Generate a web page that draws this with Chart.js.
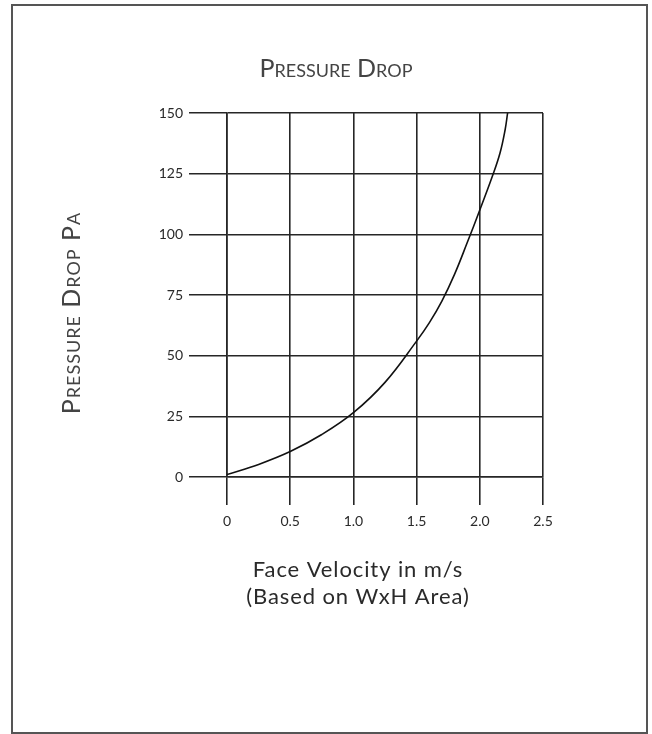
<!DOCTYPE html>
<html lang="en">
<head>
    <meta charset="UTF-8">
    <title>Pressure Drop</title>
    <script src="https://cdn.jsdelivr.net/npm/chart.js"></script>
    <style>
        html, body { margin: 0; padding: 0; background: #fff; }
        #frame { position: absolute; left: 11px; top: 4px; width: 633px; height: 726px; border: 2px solid #555; }
        #wrap { position: absolute; left: 0; top: 0; width: 652px; height: 734px; }
    </style>
</head>
<body>
    <div id="frame"></div>
    <div id="wrap"><canvas id="pressureChart" width="652" height="734"></canvas></div>
    <script>
        // values
        const velocity = [0, 0.25, 0.5, 0.75, 1.0, 1.25, 1.5, 1.6, 1.7, 1.8, 1.9, 2.0, 2.1, 2.16, 2.2, 2.22];
        const pressure = [1, 5.2, 10.5, 17.5, 26.5, 39, 56, 63.5, 72.5, 83.5, 96.5, 110, 124, 133.5, 143, 150];
        const xTickLabels = ['0', '0.5', '1.0', '1.5', '2.0', '2.5'];
        const yTickLabels = ['0', '25', '50', '75', '100', '125', '150'];
        const chartTitle = 'Pressure Drop';
        const yTitle = 'Pressure Drop Pa';
        const xTitle = ['Face Velocity in m/s', '(Based on WxH Area)'];

        const captions = {
            id: 'captions',
            afterDraw(chart) {
                const { ctx, chartArea: a } = chart;
                ctx.save();
                ctx.textAlign = 'center';
                ctx.textBaseline = 'alphabetic';
                // chart title
                ctx.fillStyle = '#444';
                ctx.font = 'small-caps 25px Lato';
                ctx.letterSpacing = '0px';
                ctx.fillText(chartTitle, a.left + 109, a.top - 36);
                // x caption
                ctx.fillStyle = '#2a2a2a';
                ctx.font = '22px Lato';
                ctx.letterSpacing = '0.9px';
                xTitle.forEach((line, i) => ctx.fillText(line, a.left + 131, a.bottom + 100 + i * 27));
                // y caption
                ctx.fillStyle = '#444';
                ctx.font = 'small-caps 25px Lato';
                ctx.letterSpacing = '1px';
                ctx.translate(a.left - 147, a.top + 200);
                ctx.rotate(-Math.PI / 2);
                ctx.fillText(yTitle, 0, 0);
                ctx.restore();
            }
        };

        const gridColor = '#262626';
        const tickFont = { family: 'Lato', size: 14 };

        new Chart(document.getElementById('pressureChart'), {
            type: 'line',
            data: {
                datasets: [{
                    data: velocity.map((v, i) => ({ x: v, y: pressure[i] })),
                    borderColor: '#111',
                    borderWidth: 1.6,
                    pointRadius: 0,
                    fill: false,
                    tension: 0.4
                }]
            },
            options: {
                responsive: false,
                animation: false,
                layout: { padding: { left: 0, right: 109, top: 113, bottom: 197 } },
                plugins: { legend: { display: false }, tooltip: { enabled: false } },
                scales: {
                    x: {
                        type: 'linear', min: 0, max: 2.5,
                        ticks: { stepSize: 0.5, padding: 8, color: '#2a2a2a', font: tickFont,
                                 callback: (v, i) => xTickLabels[i] },
                        grid: { color: gridColor, lineWidth: 1.6, tickLength: 28 },
                        border: { color: gridColor, width: 1.6 },
                        afterFit(s) { s.height = 60; }
                    },
                    y: {
                        min: 0, max: 150,
                        ticks: { stepSize: 25, padding: 6, color: '#2a2a2a', font: tickFont,
                                 callback: (v, i) => yTickLabels[i] },
                        grid: { color: gridColor, lineWidth: 1.6, tickLength: 38 },
                        border: { color: gridColor, width: 1.6 },
                        afterFit(s) { s.width = 227; }
                    }
                }
            },
            plugins: [captions]
        });
    </script>
</body>
</html>
